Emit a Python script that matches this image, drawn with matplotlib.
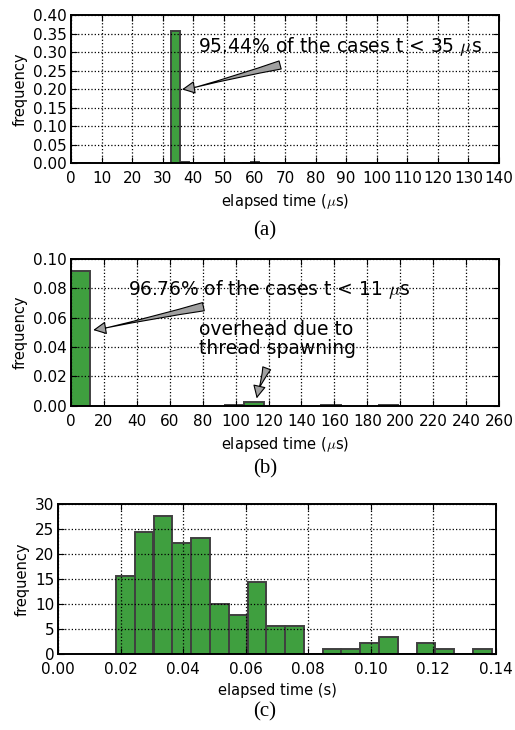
import matplotlib
matplotlib.use("Agg")
import matplotlib.pyplot as plt

plt.rcParams['font.family'] = ['DejaVu Sans']
plt.rcParams['mathtext.fontset'] = 'cm'
plt.rcParams['xtick.direction'] = 'in'
plt.rcParams['ytick.direction'] = 'in'
plt.rcParams['xtick.top'] = True
plt.rcParams['ytick.right'] = True
plt.rcParams['axes.linewidth'] = 1.4

# (a) short task timings, us
a_left = [0.75, 3.65, 32.65, 35.55, 38.45, 41.35, 44.25, 47.15, 50.05, 55.85, 58.75, 61.65]
a_freq = [0.001, 0.001, 0.358, 0.002, 0.0005, 0.001, 0.001, 0.001, 0.0005, 0.0008, 0.003, 0.0008]
a_width = 2.9
a_xticks = list(range(0, 141, 10))
a_yticks = [0.00, 0.05, 0.10, 0.15, 0.20, 0.25, 0.30, 0.35, 0.40]

# (b) threaded timings, us
b_left = [0.0, 93.6, 105.3, 152.1, 187.2]
b_freq = [0.092, 0.0007, 0.0025, 0.0002, 0.0003]
b_width = 11.7
b_xticks = list(range(0, 261, 20))
b_yticks = [0.00, 0.02, 0.04, 0.06, 0.08, 0.10]

# (c) elapsed time, s
c_left = [0.0184, 0.0244, 0.0305, 0.0365, 0.0425, 0.0485, 0.0545, 0.0606,
          0.0666, 0.0726, 0.0786, 0.0846, 0.0906, 0.0967, 0.1027, 0.1087,
          0.1147, 0.1207, 0.1268, 0.1328]
c_freq = [15.5, 24.3, 27.6, 22.1, 23.2, 10.0, 7.7, 14.4, 5.5, 5.5, 0,
          1.0, 1.0, 2.1, 3.3, 0, 2.1, 1.0, 0, 1.0]
c_width = 0.00602
c_xticks = [0.00, 0.02, 0.04, 0.06, 0.08, 0.10, 0.12, 0.14]
c_yticks = [0, 5, 10, 15, 20, 25, 30]

bar_kw = dict(align='edge', color='#3f9f3f', edgecolor='#404040', linewidth=1.4)


def style(ax, xticks, yticks, yfmt, xlabel):
    ax.set_xlim(xticks[0], xticks[-1])
    ax.set_ylim(yticks[0], yticks[-1])
    ax.set_xticks(xticks)
    ax.set_yticks(yticks)
    ax.set_yticklabels([yfmt.format(v) for v in yticks])
    ax.tick_params(labelsize=11, length=4, width=0.8)
    ax.tick_params(axis='x', pad=6)
    ax.tick_params(axis='y', pad=3)
    ax.grid(True, color='black', linestyle=':', linewidth=0.9)
    ax.set_axisbelow(False)
    ax.set_xlabel(xlabel, fontsize=10.5, labelpad=4)
    ax.set_ylabel('frequency', fontsize=10.5)


def arrow(ax, tail, tip, back):
    # tapered shaft plus a small head
    mid = (tip[0] + back[0], tip[1] + back[1])
    ax.annotate('', xy=mid, xytext=tail,
                arrowprops=dict(arrowstyle='wedge,tail_width=0.6,shrink_factor=0.35',
                                facecolor='#a0a0a0', edgecolor='black', lw=0.8,
                                shrinkA=0, shrinkB=0),
                annotation_clip=False)
    ax.annotate('', xy=tip, xytext=mid,
                arrowprops=dict(arrowstyle='-|>,head_length=0.5,head_width=0.25',
                                facecolor='#a0a0a0', edgecolor='black', lw=0.8,
                                shrinkA=0, shrinkB=0, mutation_scale=16),
                annotation_clip=False)


fig = plt.figure(figsize=(5.15, 7.3), dpi=100)

ax1 = fig.add_axes([0.1379, 0.7767, 0.831, 0.2027])
ax1.bar(a_left, a_freq, width=a_width, **bar_kw)
style(ax1, a_xticks, a_yticks, '{:.2f}', r'elapsed time ($\mu$s)')
ax1.text(41.5, 0.314, r'95.44% of the cases t < 35 $\mu$s', fontsize=13.5, va='center')
arrow(ax1, (68.4, 0.265), (36.3, 0.199), (4.5, 0.006))

ax2 = fig.add_axes([0.1379, 0.4442, 0.831, 0.201])
ax2.bar(b_left, b_freq, width=b_width, **bar_kw)
style(ax2, b_xticks, b_yticks, '{:.2f}', r'elapsed time ($\mu$s)')
ax2.text(34.4, 0.0789, r'96.76% of the cases t < 11 $\mu$s', fontsize=13.5, va='center')
ax2.text(78, 0.0455, 'overhead due to\nthread spawning', fontsize=13.5, va='center',
         linespacing=1.05)
arrow(ax2, (80.4, 0.0675), (13.5, 0.0516), (8.0, 0.0015))
arrow(ax2, (118.9, 0.0255), (112.8, 0.005), (1.2, 0.006))

ax3 = fig.add_axes([0.1132, 0.1045, 0.8493, 0.205])
ax3.bar(c_left, c_freq, width=c_width, **bar_kw)
style(ax3, c_xticks, c_yticks, '{:d}', 'elapsed time (s)')
ax3.set_xticklabels(['{:.2f}'.format(v) for v in c_xticks])

for label, y in [('(a)', 0.678), ('(b)', 0.352), ('(c)', 0.018)]:
    fig.text(0.5146, y, label, fontsize=15, family='Liberation Serif', ha='center')

fig.savefig('out.png', dpi=100)
